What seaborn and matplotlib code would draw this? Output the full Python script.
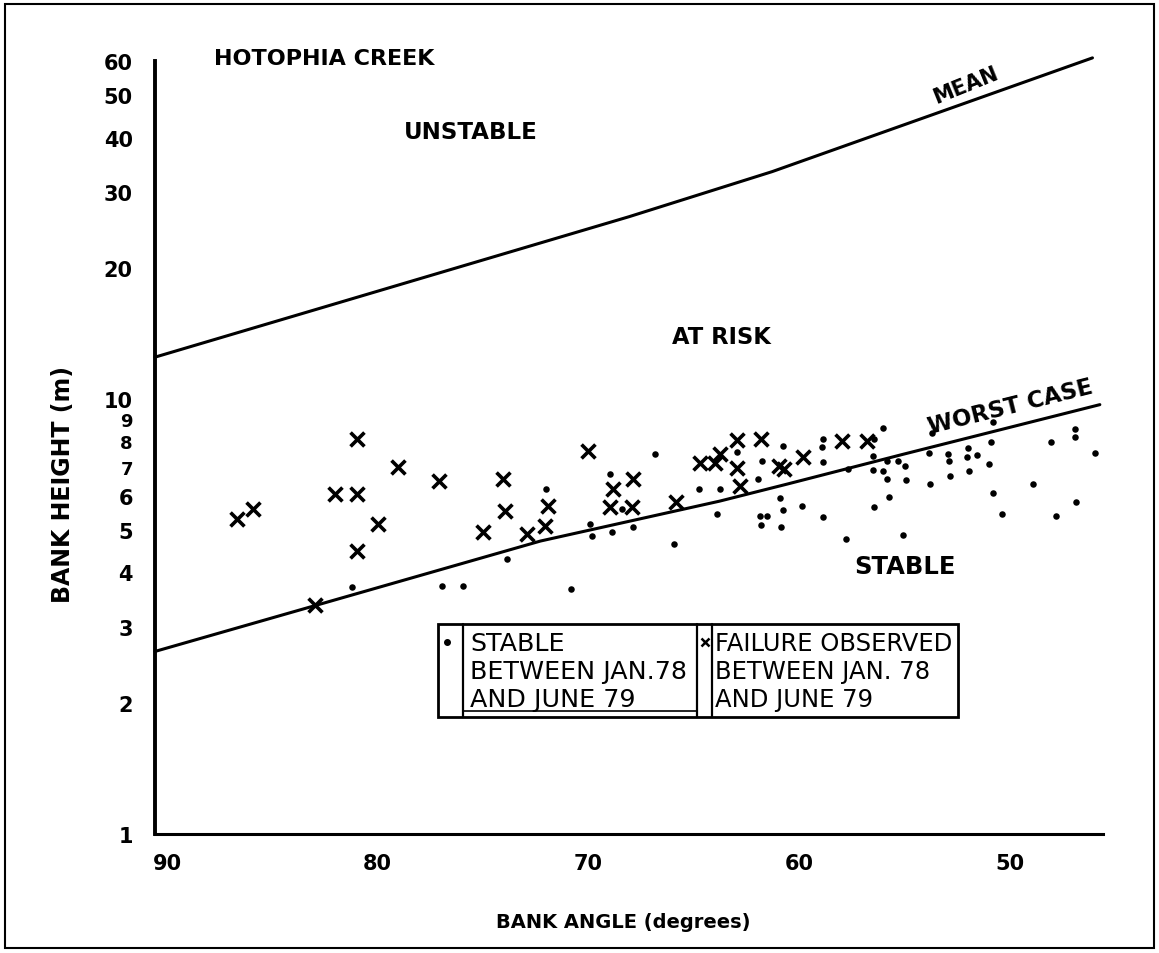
import matplotlib
matplotlib.use("Agg")
import matplotlib.pyplot as plt
import matplotlib.transforms as mtransforms
from matplotlib.patches import Rectangle
import pandas as pd
import seaborn as sns

# ---------------- data ----------------
fail_angle = [86.1, 85.35, 82.4, 81.45, 80.4, 80.4, 80.4, 79.4, 78.45, 76.5,
              74.45, 73.5, 73.4, 72.35, 71.5, 71.35, 69.45, 68.25, 68.4, 67.3,
              67.35, 65.25, 64.15, 63.4, 63.2, 62.35, 61.25, 62.35, 62.25, 60.4,
              60.15, 59.25, 57.4, 56.2]
fail_height = [5.30, 5.59, 3.36, 6.05, 8.09, 6.05, 4.47, 5.16, 6.98, 6.48,
               4.95, 6.55, 5.53, 4.89, 5.11, 5.68, 7.59, 6.21, 5.65, 6.55,
               5.65, 5.80, 7.13, 7.13, 7.47, 8.05, 8.09, 6.94, 6.31, 7.01,
               6.91, 7.36, 8.01, 8.01]

stable_angle = [80.65, 76.4, 75.4, 73.3, 71.45, 70.25, 69.35, 69.25, 68.4, 68.3,
                67.85, 67.3, 66.25, 65.35, 64.2, 63.3, 63.2, 62.35, 61.2, 61.4,
                60.2, 60.35, 60.2, 61.3, 60.95, 61.25, 60.3, 59.3, 58.3, 57.2,
                58.3, 58.35, 58.3, 57.1, 55.9, 55.9, 55.85, 55.45, 53.1, 55.25,
                54.75, 54.4, 55.45, 55.25, 54.35, 55.15, 55.85, 53.2, 53.25, 52.35,
                52.3, 52.25, 51.4, 51.45, 51.0, 51.35, 50.4, 50.2, 50.3, 50.2,
                49.8, 48.3, 47.45, 47.25, 46.35, 46.35, 46.3, 45.4, 54.5]
stable_height = [3.70, 3.72, 3.72, 4.29, 6.21, 3.66, 5.16, 4.84, 6.72, 4.95,
                 5.59, 5.08, 7.47, 4.64, 6.21, 5.44, 6.21, 7.55, 7.20, 6.55,
                 7.80, 5.92, 5.56, 5.38, 5.38, 5.13, 5.08, 5.68, 5.36, 4.77,
                 8.09, 7.76, 7.16, 6.91, 7.40, 6.87, 8.09, 8.58, 8.37, 7.20,
                 7.20, 7.01, 6.83, 6.55, 6.51, 5.95, 5.65, 6.38, 7.51, 7.47,
                 7.20, 6.65, 7.72, 7.36, 7.43, 6.83, 7.09, 8.85, 7.96, 6.08,
                 5.44, 6.38, 7.96, 5.38, 8.53, 8.18, 5.80, 7.51, 4.87]

mean_angle = [90.0, 67.5, 60.7, 45.5]
mean_height = [12.5, 26.3, 33.4, 61.0]

worst_angle = [90.0, 71.7, 63.2, 60.0, 54.5, 45.15]
worst_height = [2.63, 4.72, 5.83, 6.38, 7.47, 9.72]

y_ticks = [1, 2, 3, 4, 5, 6, 7, 8, 9, 10, 20, 30, 40, 50, 60]
y_ticklabels = ["1", "2", "3", "4", "5", "6", "7", "8", "9", "10", "20", "30", "40", "50", "60"]
x_major = [90, 80, 70, 60, 50]
x_minor = [85, 75, 65, 55, 45]

# ---------------- style ----------------
sns.set_style("white")
plt.rcParams["font.family"] = ["DejaVu Sans"]
plt.rcParams["font.weight"] = "bold"
for key in ("text.color", "axes.labelcolor", "xtick.color", "ytick.color", "axes.edgecolor"):
    plt.rcParams[key] = "black"

W, H = 1159, 954
fig = plt.figure(figsize=(W / 100, H / 100), dpi=100)
ax = fig.add_axes([155 / W, (H - 835) / H, 948 / W, 773 / H])

fail_df = pd.DataFrame({"angle": fail_angle, "height": fail_height})
stable_df = pd.DataFrame({"angle": stable_angle, "height": stable_height})
mean_df = pd.DataFrame({"angle": mean_angle, "height": mean_height})
worst_df = pd.DataFrame({"angle": worst_angle, "height": worst_height})

sns.lineplot(data=mean_df, x="angle", y="height", ax=ax, color="black", lw=2.2, estimator=None)
sns.lineplot(data=worst_df, x="angle", y="height", ax=ax, color="black", lw=2.2, estimator=None)
for ln in ax.lines:
    ln.set_clip_on(False)

sns.scatterplot(data=stable_df, x="angle", y="height", ax=ax, marker="o", s=22,
                color="black", edgecolor="black", linewidth=0)
sns.scatterplot(data=fail_df, x="angle", y="height", ax=ax, marker="x", s=100,
                color="black", linewidth=2.6)

ax.set_yscale("log")
ax.set_xlim(90, 45)
ax.set_ylim(1, 60)

ax.yaxis.set_major_locator(matplotlib.ticker.FixedLocator(y_ticks))
ax.yaxis.set_major_formatter(matplotlib.ticker.FixedFormatter(y_ticklabels))
ax.yaxis.set_minor_locator(matplotlib.ticker.NullLocator())
ax.xaxis.set_major_locator(matplotlib.ticker.FixedLocator(x_major))
ax.xaxis.set_minor_locator(matplotlib.ticker.FixedLocator(x_minor))
ax.xaxis.set_major_formatter(matplotlib.ticker.FixedFormatter([str(v) for v in x_major]))

ax.tick_params(axis="y", which="major", direction="in", length=7, width=2,
               labelsize=15, pad=16, colors="black")
ax.tick_params(axis="x", which="both", direction="in", length=7, width=2,
               labelsize=15, pad=14, colors="black")
for lab in ax.get_yticklabels():
    if lab.get_text() in ("7", "8", "9"):
        lab.set_fontsize(13)

offset = mtransforms.ScaledTranslation(12 / 100, 0, fig.dpi_scale_trans)
for lab in ax.get_xticklabels():
    lab.set_transform(lab.get_transform() + offset)

for side in ("top", "right"):
    ax.spines[side].set_visible(False)
ax.spines["left"].set_linewidth(2.8)
ax.spines["bottom"].set_linewidth(2.2)
ax.spines["left"].set_color("black")
ax.spines["bottom"].set_color("black")

ax.set_xlabel("BANK ANGLE (degrees)", fontsize=14, fontweight="bold")
ax.set_ylabel("BANK HEIGHT (m)", fontsize=17, fontweight="bold")
ax.xaxis.set_label_coords(0.494, -0.101)
ax.yaxis.set_label_coords(-0.084, 0.453)

# ---------------- annotations ----------------
ax.text(87.2, 61, "HOTOPHIA CREEK", fontsize=16, fontweight="bold", ha="left", va="center")
ax.text(75.0, 41.3, "UNSTABLE", fontsize=16.5, fontweight="bold", ha="center", va="center")
ax.text(63.1, 13.96, "AT RISK", fontsize=16.3, fontweight="bold", ha="center", va="center")
ax.text(54.4, 4.13, "STABLE", fontsize=17.5, fontweight="bold", ha="center", va="center")
ax.text(51.5, 53, "MEAN", fontsize=15, fontweight="bold", ha="center", va="center", rotation=22)
ax.text(49.4, 9.64, "WORST CASE", fontsize=16.5, fontweight="bold", ha="center", va="center", rotation=14)

# ---------------- legend box ----------------
tA = ax.transAxes
x0, x1 = 0.2985, 0.847
y0, y1 = 0.1514, 0.2717
ax.add_patch(Rectangle((x0, y0), x1 - x0, y1 - y0, transform=tA, fill=False,
                       lw=2, ec="black", clip_on=False))
for xv in (0.3249, 0.5717, 0.5876):
    ax.plot([xv, xv], [y0, y1], transform=tA, color="black", lw=1.6, clip_on=False)
ax.plot([0.3249, 0.5717], [0.159, 0.159], transform=tA, color="black", lw=1.2, clip_on=False)
ax.plot([0.308], [0.248], transform=tA, marker="o", ms=4, color="black", clip_on=False)
ax.plot([0.580], [0.248], transform=tA, marker="x", ms=6, mew=1.8, color="black", clip_on=False)
left_lines = ["STABLE", "BETWEEN JAN.78", "AND JUNE 79"]
right_lines = ["FAILURE OBSERVED", "BETWEEN JAN. 78", "AND JUNE 79"]
for yy, lt, rt in zip((0.2471, 0.2109, 0.1746), left_lines, right_lines):
    ax.text(0.3323, yy, lt, transform=tA, fontsize=18.3, fontweight="normal", ha="left", va="center")
    ax.text(0.5907, yy, rt, transform=tA, fontsize=17.5, fontweight="normal", ha="left", va="center")

ax.set_xlim(90, 45)
ax.set_ylim(1, 60)

# outer frame
fig.patches.append(Rectangle((0.004, 0.005), 0.992, 0.99, transform=fig.transFigure,
                             fill=False, lw=1.5, ec="black"))

fig.savefig("out.png", dpi=100)
